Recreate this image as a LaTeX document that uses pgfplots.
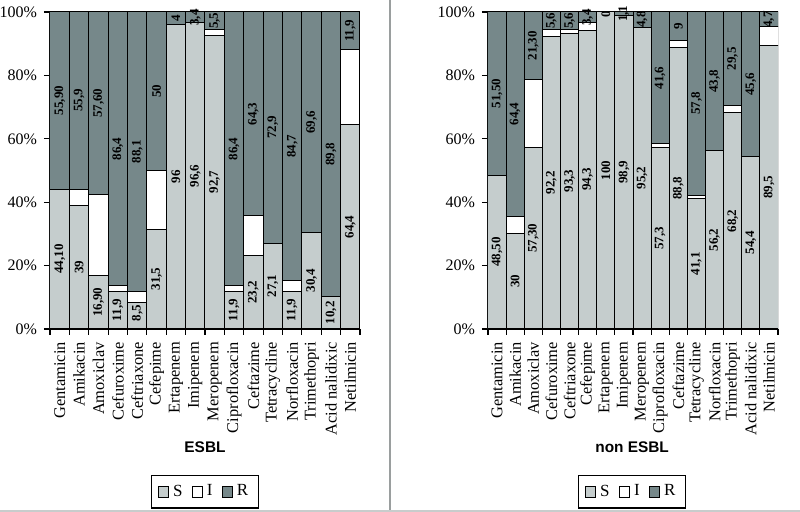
\documentclass[border=0pt]{standalone}
\usepackage{pgfplots}
\pgfplotsset{compat=1.18}
\usepackage{pgfplotstable}
\usepackage{fontspec}
\setmainfont{Liberation Serif}
\newfontfamily\arialfont{Liberation Sans}
\definecolor{cS}{HTML}{C5CDCD}
\definecolor{cR}{HTML}{76888A}
\definecolor{sepcol}{HTML}{9A9E9E}
\definecolor{botcol}{HTML}{C8CCCC}

% S I R : percentages; sy, ry : label heights (segment centres); sl, rl : label texts
\pgfplotstableread{
S I R sy ry sl rl
44.1 0 55.9 22.05 72.05 44,10 55,90
39 5.1 55.9 19.5 72.05 39 55,9
16.9 25.5 57.6 8.45 71.2 16,90 57,60
11.9 1.7 86.4 5.95 56.8 11,9 86,4
8.5 3.4 88.1 5.0 55.95 8,5 88,1
31.5 18.5 50 15.75 75 31,5 50
96 0 4 48 98 96 4
96.6 0 3.4 48.3 98.3 96,6 3,4
92.7 1.8 5.5 46.35 97.25 92,7 5,5
11.9 1.7 86.4 5.95 56.8 11,9 86,4
23.2 12.5 64.3 11.6 67.85 23,2 64,3
27.1 0 72.9 13.55 63.55 27,1 72,9
11.9 3.4 84.7 5.95 57.65 11,9 84,7
30.4 0 69.6 15.2 65.2 30,4 69,6
10.2 0 89.8 5.1 55.1 10,2 89,8
64.4 23.7 11.9 32.2 94.05 64,4 11,9
}\esbl

\pgfplotstableread{
S I R sy ry sl rl
48.5 0 51.5 24.25 74.25 48,50 51,50
30 5.6 64.4 15 67.8 30 64,4
57.3 21.4 21.3 28.65 89.35 57,30 21,30
92.2 2.2 5.6 46.1 97.2 92,2 5,6
93.3 1.1 5.6 46.65 97.2 93,3 5,6
94.3 2.3 3.4 47.15 98.3 94,3 3,4
100 0 0 50 99.3 100 0
98.9 0 1.1 49.45 99.45 98,9 1,1
95.2 0 4.8 47.6 97.6 95,2 4,8
57.3 1.1 41.6 28.65 79.2 57,3 41,6
88.8 2.2 9 44.4 95.5 88,8 9
41.1 1.1 57.8 20.55 71.1 41,1 57,8
56.2 0 43.8 28.1 78.1 56,2 43,8
68.2 2.3 29.5 34.1 85.25 68,2 29,5
54.4 0 45.6 27.2 77.2 54,4 45,6
89.5 5.8 4.7 44.75 97.65 89,5 4,7
}\nonesbl

\pgfplotsset{
  panel/.style={scale only axis, height=158.5pt, xmin=0.5, xmax=16.5,
    ymin=0, ymax=100, anchor=south west},
  bars/.style={panel, ybar stacked, bar width=1,
    axis x line*=bottom, axis y line*=left,
    axis line style={black, line width=0.6pt},
    tick style={black, line width=0.6pt},
    tick align=outside, major tick length=3pt, minor tick length=3pt,
    ytick={0,20,40,60,80,100},
    yticklabels={0\%,20\%,40\%,60\%,80\%,100\%},
    yticklabel style={font=\fontsize{8}{9}\selectfont},
    xtick={1,...,16},
    xticklabels={Gentamicin,Amikacin,Amoxiclav,Cefuroxime,Ceftriaxone,Cefepime,Ertapenem,Imipenem,Meropenem,Ciprofloxacin,Ceftazime,Tetracycline,Norfloxacin,Trimethopri,{Acid nalidixic},Netilmicin},
    xticklabel style={rotate=90, anchor=east, font=\fontsize{8.2}{9}\selectfont},
    major x tick style={draw=none},
    minor xtick={0.5,1.5,...,16.5},
    xlabel style={anchor=center, font=\arialfont\bfseries\fontsize{7.7}{9}\selectfont},
    legend style={anchor=center, legend columns=3, draw=black, line width=0.6pt,
      font=\fontsize{8.5}{10}\selectfont, inner xsep=3pt, inner ysep=2.5pt,
      /tikz/every even column/.append style={column sep=2.5pt}},
  },
  sq/.style={draw=black, line width=0.5pt,
    legend image code/.code={\draw[##1, line width=0.5pt] (0pt,-2.6pt) rectangle (5.2pt,2.6pt);}},
  labs/.style={draw=none, nodes near coords, point meta=explicit symbolic,
    every node near coord/.append style={rotate=90, anchor=center, inner sep=0pt,
      font=\bfseries\fontsize{6.5}{7}\selectfont}},
}

\begin{document}
\begin{tikzpicture}
\draw[sepcol, line width=1pt] (195pt,0pt) -- (195pt,256pt);
\draw[botcol, line width=1pt] (0pt,0.5pt) -- (400pt,0.5pt);

% ---------- ESBL ----------
\begin{axis}[bars, at={(25pt,91.5pt)}, width=155pt,
  xlabel={ESBL}, xlabel style={at={(0.5,-0.372)}},
  legend style={at={(0.5,-0.514)}}]
\addplot[sq, fill=cS] table[x expr=\coordindex+1, y=S] {\esbl};
\addplot[sq, fill=white] table[x expr=\coordindex+1, y=I] {\esbl};
\addplot[sq, fill=cR] table[x expr=\coordindex+1, y=R] {\esbl};
\legend{S,I,R}
\end{axis}
\begin{axis}[panel, at={(25pt,91.5pt)}, width=155pt, hide axis, clip=false]
\addplot[labs] table[x expr=\coordindex+1, y=sy, meta=sl] {\esbl};
\addplot[labs] table[x expr=\coordindex+1, y=ry, meta=rl] {\esbl};
\end{axis}

% ---------- non ESBL ----------
\begin{axis}[bars, at={(244pt,91.5pt)}, width=145pt,
  xlabel={non ESBL}, xlabel style={at={(0.497,-0.372)}},
  legend style={at={(0.497,-0.514)}}]
\addplot[sq, fill=cS] table[x expr=\coordindex+1, y=S] {\nonesbl};
\addplot[sq, fill=white] table[x expr=\coordindex+1, y=I] {\nonesbl};
\addplot[sq, fill=cR] table[x expr=\coordindex+1, y=R] {\nonesbl};
\legend{S,I,R}
\end{axis}
\begin{axis}[panel, at={(244pt,91.5pt)}, width=145pt, hide axis, clip=false]
\addplot[labs] table[x expr=\coordindex+1, y=sy, meta=sl] {\nonesbl};
\addplot[labs] table[x expr=\coordindex+1, y=ry, meta=rl] {\nonesbl};
\end{axis}
\pgfresetboundingbox
\path[use as bounding box] (0pt,0pt) rectangle (400pt,256pt);
\end{tikzpicture}
\end{document}
